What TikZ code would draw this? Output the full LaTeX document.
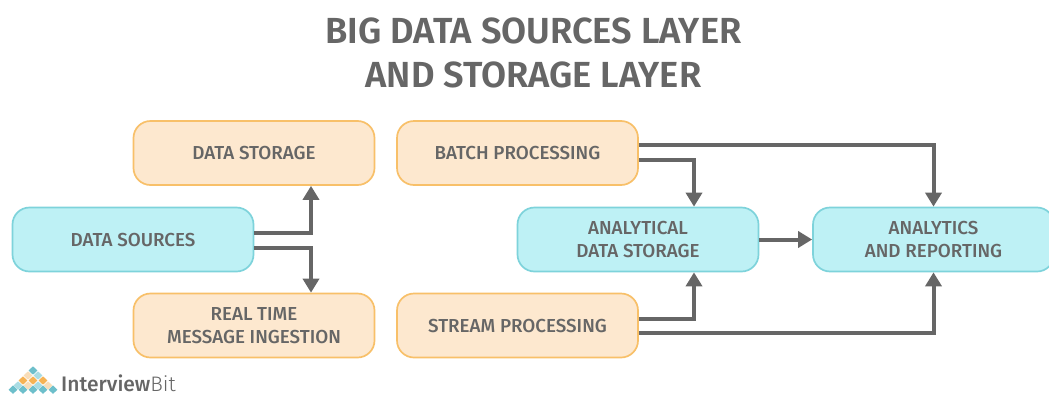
\documentclass[tikz,border=0pt]{standalone}
\usepackage{fontspec}
\setmainfont{Fira Sans Medium}[BoldFont={Fira Sans SemiBold}]
\newfontfamily\lightbrand{Fira Sans Light}
\usetikzlibrary{arrows.meta}
\definecolor{txt}{HTML}{666666}
\definecolor{arrowc}{HTML}{666666}
\definecolor{ofill}{HTML}{FDE8CF}
\definecolor{oline}{HTML}{F8C069}
\definecolor{tfill}{HTML}{BEF1F5}
\definecolor{tline}{HTML}{7ED3DB}
\definecolor{logot}{HTML}{6DBFCB}
\definecolor{logoo}{HTML}{F6B354}
\definecolor{logop}{HTML}{F8DDB8}
\definecolor{logos}{HTML}{A9DCE3}
\tikzset{
  boxbase/.style={rounded corners=17pt,line width=1.7pt,minimum width=241pt,minimum height=64pt,
    align=center,text=txt,font=\fontsize{18.8}{23.5}\selectfont,inner sep=0pt},
  obox/.style={boxbase,draw=oline,fill=ofill},
  tbox/.style={boxbase,draw=tline,fill=tfill},
  flow/.style={draw=arrowc,line width=4pt,-{Triangle[length=14pt,width=16pt]}},
  titletext/.style={text=txt,font=\fontsize{36.3}{44}\selectfont\bfseries,align=center,inner sep=0pt},
}
\newcommand{\gemat}[3]{\fill[#3] (#1-4.4,#2) -- (#1,#2-4.2) -- (#1+4.4,#2) -- (#1,#2+4.2) -- cycle;}
\begin{document}
\begin{tikzpicture}[x=1pt,y=-1pt]
\useasboundingbox (0,0) rectangle (1049,394);
\fill[white] (0,0) rectangle (1049,394);
\node[titletext] (title) at (533.5,53) {BIG DATA SOURCES LAYER\\AND STORAGE LAYER};
\node[obox] (store) at (254,153) {DATA STORAGE};
\node[obox] (batch) at (517.5,153) {BATCH PROCESSING};
\node[tbox] (src) at (133,239.5) {DATA SOURCES};
\node[obox] (rt) at (254,325.5) {REAL TIME\\MESSAGE INGESTION};
\node[obox] (stream) at (517.5,325.5) {STREAM PROCESSING};
\node[tbox] (ads) at (638,239.5) {ANALYTICAL\\DATA STORAGE};
\node[tbox] (rep) at (933.5,239.5) {ANALYTICS\\AND REPORTING};
\draw[flow] ([yshift=6.5pt]src.east) -| ([xshift=57pt]store.south);
\draw[flow] ([yshift=-8pt]src.east) -| ([xshift=57pt]rt.north);
\draw[flow] ([yshift=8pt]batch.east) -| (rep.north);
\draw[flow] ([yshift=-7pt]batch.east) -| ([xshift=56pt]ads.north);
\draw[flow] ([yshift=6.5pt]stream.east) -| ([xshift=56pt]ads.south);
\draw[flow] ([yshift=-7.5pt]stream.east) -| (rep.south);
\draw[flow] (ads.east) -- (rep.west);
\gemat{33}{370.5}{logot}
\gemat{28}{375.5}{logop}
\gemat{38}{375.5}{logos}
\gemat{23}{380.5}{logoo}
\gemat{33}{380.5}{logoo}
\gemat{43}{380.5}{logoo}
\gemat{18}{385.5}{logos}
\gemat{28}{385.5}{logop}
\gemat{38}{385.5}{logos}
\gemat{48}{385.5}{logop}
\gemat{13}{389.7}{logot}
\gemat{23}{389.7}{logot}
\gemat{33}{389.7}{logot}
\gemat{43}{389.7}{logot}
\gemat{53}{389.7}{logot}
\node[text=txt,anchor=base west,inner sep=0pt,font=\fontsize{21}{24}\selectfont] (brand) at (61,391) {Interview{\lightbrand Bit}};
\end{tikzpicture}
\end{document}
